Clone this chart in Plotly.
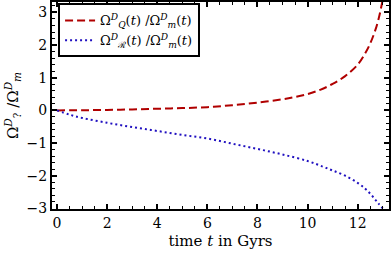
import plotly.graph_objects as go

t_q = [0, 1, 2, 3, 4, 5, 6, 7, 8, 9, 9.5, 10, 10.5, 11, 11.5, 12, 12.3, 12.5, 12.7, 12.85, 13.0]
omega_q = [0, 0.005, 0.015, 0.03, 0.05, 0.07, 0.1, 0.16, 0.24, 0.34, 0.41, 0.5, 0.63, 0.81, 1.05, 1.4, 1.75, 2.05, 2.45, 2.85, 3.4]

t_r = [0, 0.5, 1, 2, 3, 4, 5, 6, 7, 8, 9, 10, 10.6, 11, 11.5, 12, 12.3, 12.5, 12.7, 12.85, 13.0]
omega_r = [0, -0.13, -0.23, -0.38, -0.51, -0.63, -0.75, -0.86, -1.02, -1.18, -1.35, -1.55, -1.72, -1.84, -2.0, -2.22, -2.4, -2.55, -2.73, -2.87, -3.0]

x_ticks = [0, 2, 4, 6, 8, 10, 12]
y_ticks = [-3, -2, -1, 0, 1, 2, 3]

name_q = "Ω<sup><i>D</i></sup><sub><i>Q</i></sub>(<i>t</i>) /Ω<sup><i>D</i></sup><sub><i>m</i></sub>(<i>t</i>)"
name_r = "Ω<sup><i>D</i></sup><sub>ℛ</sub>(<i>t</i>) /Ω<sup><i>D</i></sup><sub><i>m</i></sub>(<i>t</i>)"

font = "DejaVu Serif"

fig = go.Figure()
fig.add_trace(go.Scatter(x=t_q, y=omega_q, mode="lines", name=name_q,
                         line=dict(color="#b00000", width=2, dash="8px,4px", shape="spline", smoothing=1.0)))
fig.add_trace(go.Scatter(x=t_r, y=omega_r, mode="lines", name=name_r,
                         line=dict(color="#2010c0", width=2, dash="2px,3px", shape="spline", smoothing=1.0)))

axis_common = dict(
    showline=True, linecolor="black", linewidth=2, mirror="ticks",
    ticks="inside", ticklen=5, tickwidth=1.5, tickcolor="black",
    showgrid=False, zeroline=False, automargin=False,
    tickfont=dict(family=font, size=14, color="black"),
)

fig.update_xaxes(range=[-0.2, 13.25], tickvals=x_ticks,
                 minor=dict(dtick=0.5, ticks="inside", ticklen=3, tickcolor="black", tickwidth=1),
                 title=dict(text="time <i>t</i> in Gyrs", font=dict(family=font, size=15, color="black"), standoff=6),
                 **axis_common)
fig.update_yaxes(range=[-3.02, 3.32], tickvals=y_ticks,
                 minor=dict(dtick=0.2, ticks="inside", ticklen=3, tickcolor="black", tickwidth=1),
                 title=dict(text="Ω<sup><i>D</i></sup><sub>?</sub> /Ω<sup><i>D</i></sup><sub><i>m</i></sub>", font=dict(family=font, size=15, color="black"), standoff=4),
                 **axis_common)

fig.update_layout(
    width=391, height=259,
    margin=dict(l=52, r=2, t=2, b=50),
    paper_bgcolor="white", plot_bgcolor="white",
    font=dict(family=font, color="black"),
    showlegend=True,
    legend=dict(x=0.018, y=0.993, xanchor="left", yanchor="top",
                bordercolor="black", borderwidth=2, bgcolor="white",
                font=dict(family=font, size=13, color="black"),
                tracegroupgap=0, itemwidth=30),
)

fig.write_html("out.html", config={"displayModeBar": False},
               post_script="document.body.style.margin='0';document.body.style.padding='0';")
